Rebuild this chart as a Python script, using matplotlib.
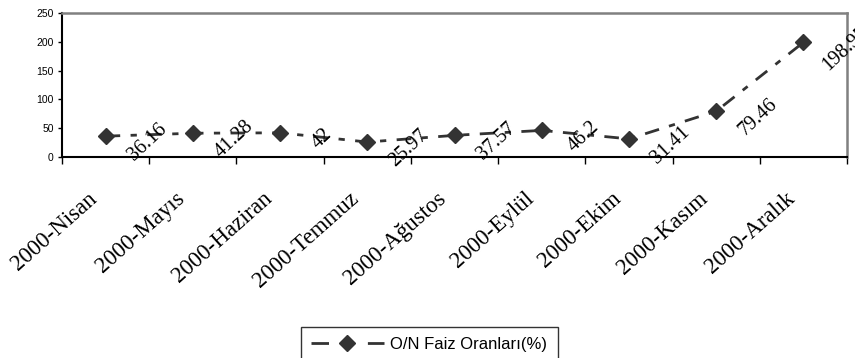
import matplotlib
matplotlib.use("Agg")
import matplotlib.pyplot as plt
from matplotlib.transforms import ScaledTranslation
import numpy as np

months = ["2000-Nisan", "2000-Mayıs", "2000-Haziran", "2000-Temmuz", "2000-Ağustos",
          "2000-Eylül", "2000-Ekim", "2000-Kasım", "2000-Aralık"]
rates = [36.16, 41.28, 42, 25.97, 37.57, 46.2, 31.41, 79.46, 198.95]
rate_labels = ["36.16", "41.28", "42", "25.97", "37.57", "46.2", "31.41", "79.46", "198.95"]
series_name = "O/N Faiz Oranları(%)"
yticks = [0, 50, 100, 150, 200, 250]

W, H, DPI = 855, 358, 100
fig = plt.figure(figsize=(W / DPI, H / DPI), dpi=DPI)
ax = fig.add_axes([62 / W, 1 - 157 / H, (847 - 62) / W, (157 - 13) / H])

x = np.arange(len(months))
line_color = "#333333"
ax.plot(x, rates, color=line_color, lw=2.0, linestyle=(0, (5.25, 3.75, 2.25, 3.75)),
        marker="D", markersize=8.5, markerfacecolor=line_color,
        markeredgecolor=line_color, label=series_name, clip_on=False, zorder=3)

serif = ["Liberation Serif", "DejaVu Serif"]
sans = ["Liberation Sans", "DejaVu Sans"]

for xi, yi, lab in zip(x, rates, rate_labels):
    ax.annotate(lab, (xi, yi), xytext=(30, -4.5), textcoords="offset points",
                ha="center", va="center", rotation=43, fontsize=14.5,
                family=serif, color="black", annotation_clip=False, zorder=4)

ax.set_xlim(-0.5, len(months) - 0.5)
ax.set_ylim(0, 250)
ax.set_yticks(yticks)
ax.set_yticklabels([str(v) for v in yticks], family=sans, fontsize=7.5)
ax.tick_params(axis="y", direction="out", length=3, width=1, pad=3, color="black")

# category labels at centres, tick marks at category boundaries
ax.set_xticks(x)
ax.set_xticklabels(months, family=serif, fontsize=16.5, rotation=41.5,
                   ha="right", va="center", rotation_mode="anchor")
ax.tick_params(axis="x", which="major", length=0, pad=28)
ax.set_xticks(np.arange(-0.5, len(months)), minor=True)
ax.tick_params(axis="x", which="minor", direction="out", length=5, width=1, color="black")
shift = ScaledTranslation(-11 / DPI, 0, fig.dpi_scale_trans)
for lbl in ax.get_xticklabels():
    lbl.set_transform(lbl.get_transform() + shift)

for side in ("left", "bottom"):
    ax.spines[side].set_color("black")
    ax.spines[side].set_linewidth(1.5)
for side in ("top", "right"):
    ax.spines[side].set_color("#808080")
    ax.spines[side].set_linewidth(1.8)

leg = fig.legend(loc="upper center", bbox_to_anchor=(429 / W, 1 - 327 / H),
                 prop={"family": sans, "size": 12}, frameon=True, fancybox=False,
                 edgecolor="black", handlelength=4.4, handletextpad=0.4,
                 borderpad=0.6, borderaxespad=0)
leg.get_frame().set_linewidth(1.0)
# symmetric dash – marker – dash sample in the legend key
for hl in leg.get_lines():
    hl.set_linestyle((0, (6.3, 14.0)))

fig.savefig("out.png", dpi=DPI)
